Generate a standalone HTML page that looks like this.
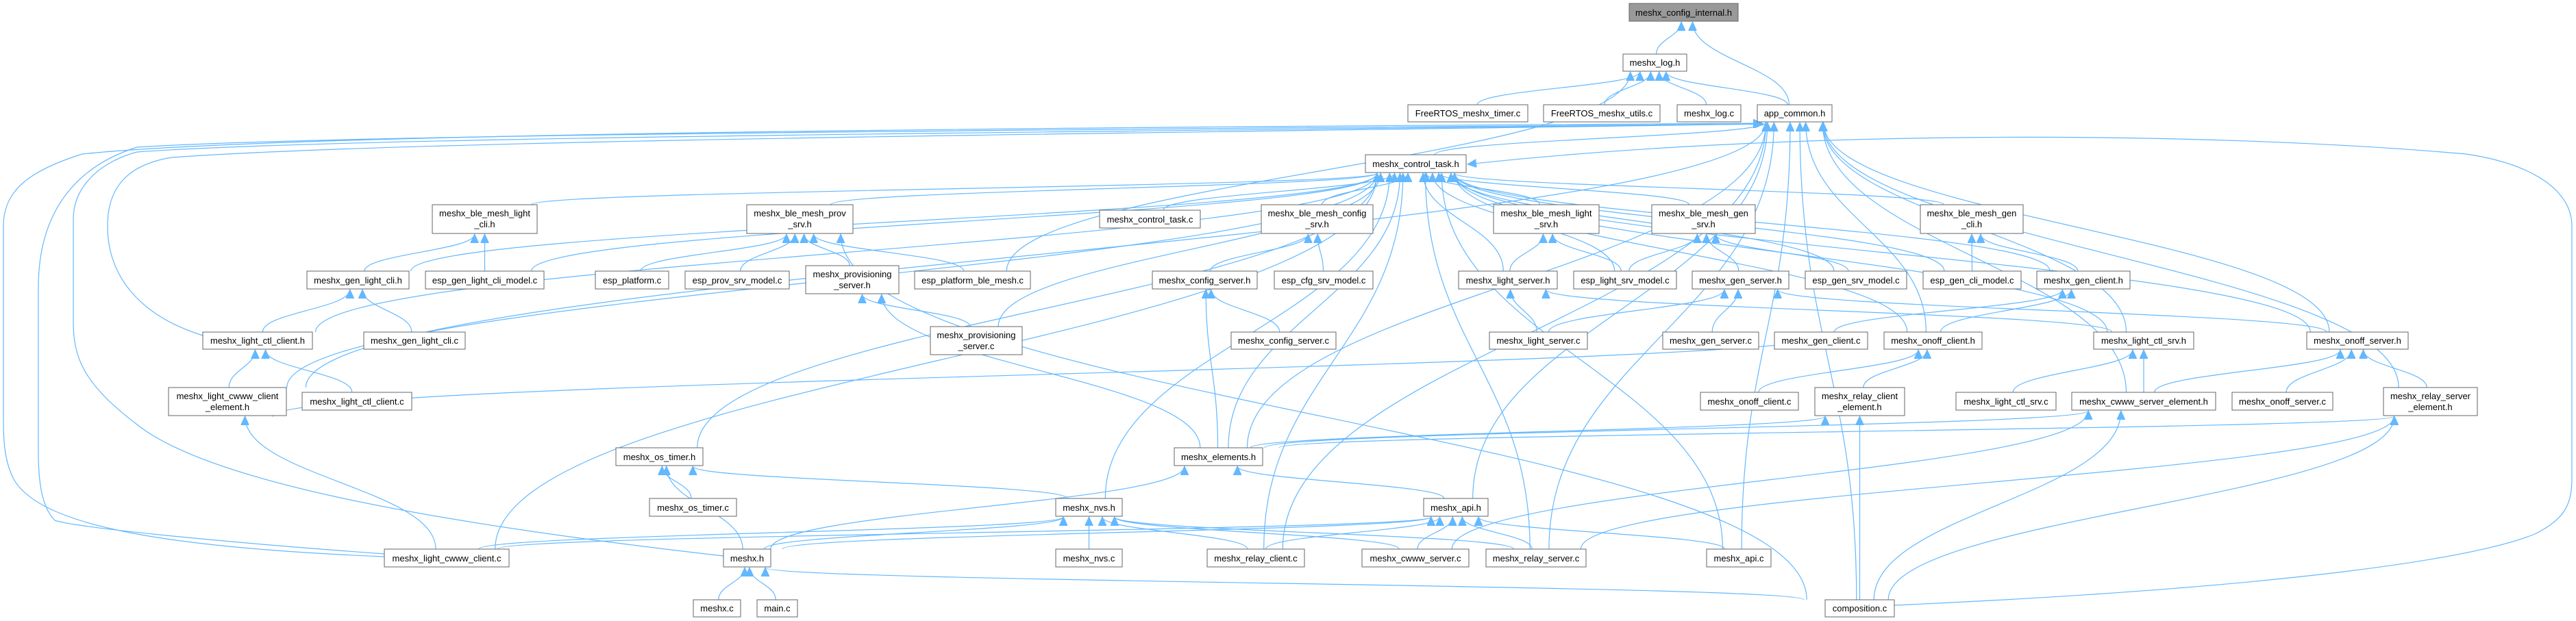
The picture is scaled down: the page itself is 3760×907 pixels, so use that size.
<!DOCTYPE html>
<html><head><meta charset="utf-8"><style>
html,body{margin:0;padding:0;background:#fff;}
svg{display:block;}
text{font-family:"Liberation Sans",Helvetica,sans-serif;font-size:13px;fill:#000;}
</style></head><body>
<svg id="g" xmlns="http://www.w3.org/2000/svg" width="3760" height="907" viewBox="0 0 3760 907">
<defs><marker id="a" markerUnits="userSpaceOnUse" markerWidth="14" markerHeight="12" refX="13" refY="6" orient="auto"><path d="M0,0 L13,6 L0,12 Z" fill="#63b8ff" stroke="#63b8ff"/></marker></defs>
<g fill="none" stroke="#63b8ff" stroke-width="1.2">
<path d="M561,813 C250,800 60,770 20,700 C5,670 5,640 5,600 L5,330 C5,280 40,250 120,225 C400,195 1500,186 2572,180" marker-end="url(#a)"/>
<path d="M561,809 C300,790 110,770 80,760 C60,740 56,700 56,660 L56,420 C56,300 120,240 200,215 C500,196 1500,190 2572,181" marker-end="url(#a)"/>
<path d="M1056,812 C600,760 300,700 200,620 C120,560 107,520 107,470 L107,320 C107,270 150,235 200,222 C500,200 1500,194 2573,181" marker-end="url(#a)"/>
<path d="M296,490 C200,460 157,400 157,330 C157,270 190,240 250,230 C600,205 1500,197 2574,181" marker-end="url(#a)"/>
<path d="M2765,884 C3300,860 3600,820 3700,780 C3740,760 3754,740 3754,700 L3754,330 C3754,280 3700,240 3600,225 C3200,190 2600,190 2142,240" marker-end="url(#a)"/>
</g>
<g id="edges" fill="none" stroke="#63b8ff" stroke-width="1.2"></g>
<g id="nodes" stroke="#666" stroke-width="1">
<rect x="2378" y="5" width="159" height="26" fill="#999"/><text x="2457.5" y="23" text-anchor="middle" stroke="none">meshx_config_internal.h</text>
<rect x="2369" y="79" width="93" height="25" fill="#fff"/><text x="2415.5" y="96" text-anchor="middle" stroke="none">meshx_log.h</text>
<rect x="2055" y="153" width="175" height="25" fill="#fff"/><text x="2142.5" y="170" text-anchor="middle" stroke="none">FreeRTOS_meshx_timer.c</text>
<rect x="2253" y="153" width="170" height="25" fill="#fff"/><text x="2338" y="170" text-anchor="middle" stroke="none">FreeRTOS_meshx_utils.c</text>
<rect x="2448" y="153" width="93" height="25" fill="#fff"/><text x="2494.5" y="170" text-anchor="middle" stroke="none">meshx_log.c</text>
<rect x="2565" y="153" width="109" height="25" fill="#fff"/><text x="2619.5" y="170" text-anchor="middle" stroke="none">app_common.h</text>
<rect x="1993" y="226" width="147" height="26" fill="#fff"/><text x="2066.5" y="244" text-anchor="middle" stroke="none">meshx_control_task.h</text>
<rect x="631" y="299" width="153" height="42" fill="#fff"/><text x="707.5" y="316" text-anchor="middle" stroke="none">meshx_ble_mesh_light</text><text x="707.5" y="332" text-anchor="middle" stroke="none">_cli.h</text>
<rect x="1090" y="299" width="155" height="42" fill="#fff"/><text x="1167.5" y="316" text-anchor="middle" stroke="none">meshx_ble_mesh_prov</text><text x="1167.5" y="332" text-anchor="middle" stroke="none">_srv.h</text>
<rect x="1605" y="307" width="147" height="26" fill="#fff"/><text x="1678.5" y="325" text-anchor="middle" stroke="none">meshx_control_task.c</text>
<rect x="1841" y="299" width="163" height="42" fill="#fff"/><text x="1922.5" y="316" text-anchor="middle" stroke="none">meshx_ble_mesh_config</text><text x="1922.5" y="332" text-anchor="middle" stroke="none">_srv.h</text>
<rect x="2180" y="299" width="154" height="42" fill="#fff"/><text x="2257" y="316" text-anchor="middle" stroke="none">meshx_ble_mesh_light</text><text x="2257" y="332" text-anchor="middle" stroke="none">_srv.h</text>
<rect x="2411" y="299" width="151" height="42" fill="#fff"/><text x="2486.5" y="316" text-anchor="middle" stroke="none">meshx_ble_mesh_gen</text><text x="2486.5" y="332" text-anchor="middle" stroke="none">_srv.h</text>
<rect x="2803" y="299" width="150" height="42" fill="#fff"/><text x="2878" y="316" text-anchor="middle" stroke="none">meshx_ble_mesh_gen</text><text x="2878" y="332" text-anchor="middle" stroke="none">_cli.h</text>
<rect x="448" y="396" width="149" height="26" fill="#fff"/><text x="522.5" y="414" text-anchor="middle" stroke="none">meshx_gen_light_cli.h</text>
<rect x="621" y="396" width="173" height="26" fill="#fff"/><text x="707.5" y="414" text-anchor="middle" stroke="none">esp_gen_light_cli_model.c</text>
<rect x="869" y="396" width="107" height="26" fill="#fff"/><text x="922.5" y="414" text-anchor="middle" stroke="none">esp_platform.c</text>
<rect x="1000" y="396" width="152" height="26" fill="#fff"/><text x="1076" y="414" text-anchor="middle" stroke="none">esp_prov_srv_model.c</text>
<rect x="1176" y="388" width="136" height="41" fill="#fff"/><text x="1244" y="405" text-anchor="middle" stroke="none">meshx_provisioning</text><text x="1244" y="421" text-anchor="middle" stroke="none">_server.h</text>
<rect x="1335" y="396" width="169" height="26" fill="#fff"/><text x="1419.5" y="414" text-anchor="middle" stroke="none">esp_platform_ble_mesh.c</text>
<rect x="1682" y="396" width="153" height="26" fill="#fff"/><text x="1758.5" y="414" text-anchor="middle" stroke="none">meshx_config_server.h</text>
<rect x="1860" y="396" width="144" height="26" fill="#fff"/><text x="1932" y="414" text-anchor="middle" stroke="none">esp_cfg_srv_model.c</text>
<rect x="2129" y="396" width="144" height="26" fill="#fff"/><text x="2201" y="414" text-anchor="middle" stroke="none">meshx_light_server.h</text>
<rect x="2297" y="396" width="150" height="26" fill="#fff"/><text x="2372" y="414" text-anchor="middle" stroke="none">esp_light_srv_model.c</text>
<rect x="2470" y="396" width="141" height="26" fill="#fff"/><text x="2540.5" y="414" text-anchor="middle" stroke="none">meshx_gen_server.h</text>
<rect x="2635" y="396" width="148" height="26" fill="#fff"/><text x="2709" y="414" text-anchor="middle" stroke="none">esp_gen_srv_model.c</text>
<rect x="2807" y="396" width="143" height="26" fill="#fff"/><text x="2878.5" y="414" text-anchor="middle" stroke="none">esp_gen_cli_model.c</text>
<rect x="2973" y="396" width="136" height="26" fill="#fff"/><text x="3041" y="414" text-anchor="middle" stroke="none">meshx_gen_client.h</text>
<rect x="296" y="485" width="160" height="25" fill="#fff"/><text x="376" y="502" text-anchor="middle" stroke="none">meshx_light_ctl_client.h</text>
<rect x="531" y="485" width="148" height="25" fill="#fff"/><text x="605" y="502" text-anchor="middle" stroke="none">meshx_gen_light_cli.c</text>
<rect x="1358" y="477" width="134" height="41" fill="#fff"/><text x="1425" y="494" text-anchor="middle" stroke="none">meshx_provisioning</text><text x="1425" y="510" text-anchor="middle" stroke="none">_server.c</text>
<rect x="1797" y="485" width="153" height="25" fill="#fff"/><text x="1873.5" y="502" text-anchor="middle" stroke="none">meshx_config_server.c</text>
<rect x="2174" y="485" width="143" height="25" fill="#fff"/><text x="2245.5" y="502" text-anchor="middle" stroke="none">meshx_light_server.c</text>
<rect x="2427" y="485" width="140" height="25" fill="#fff"/><text x="2497" y="502" text-anchor="middle" stroke="none">meshx_gen_server.c</text>
<rect x="2590" y="485" width="136" height="25" fill="#fff"/><text x="2658" y="502" text-anchor="middle" stroke="none">meshx_gen_client.c</text>
<rect x="2750" y="485" width="143" height="25" fill="#fff"/><text x="2821.5" y="502" text-anchor="middle" stroke="none">meshx_onoff_client.h</text>
<rect x="3056" y="485" width="146" height="25" fill="#fff"/><text x="3129" y="502" text-anchor="middle" stroke="none">meshx_light_ctl_srv.h</text>
<rect x="3367" y="485" width="148" height="25" fill="#fff"/><text x="3441" y="502" text-anchor="middle" stroke="none">meshx_onoff_server.h</text>
<rect x="246" y="566" width="172" height="41" fill="#fff"/><text x="332" y="583" text-anchor="middle" stroke="none">meshx_light_cwww_client</text><text x="332" y="599" text-anchor="middle" stroke="none">_element.h</text>
<rect x="441" y="573" width="160" height="26" fill="#fff"/><text x="521" y="591" text-anchor="middle" stroke="none">meshx_light_ctl_client.c</text>
<rect x="2482" y="573" width="143" height="26" fill="#fff"/><text x="2553.5" y="591" text-anchor="middle" stroke="none">meshx_onoff_client.c</text>
<rect x="2649" y="566" width="131" height="41" fill="#fff"/><text x="2714.5" y="583" text-anchor="middle" stroke="none">meshx_relay_client</text><text x="2714.5" y="599" text-anchor="middle" stroke="none">_element.h</text>
<rect x="2855" y="573" width="146" height="26" fill="#fff"/><text x="2928" y="591" text-anchor="middle" stroke="none">meshx_light_ctl_srv.c</text>
<rect x="3024" y="573" width="210" height="26" fill="#fff"/><text x="3129" y="591" text-anchor="middle" stroke="none">meshx_cwww_server_element.h</text>
<rect x="3258" y="573" width="147" height="26" fill="#fff"/><text x="3331.5" y="591" text-anchor="middle" stroke="none">meshx_onoff_server.c</text>
<rect x="3479" y="566" width="137" height="41" fill="#fff"/><text x="3547.5" y="583" text-anchor="middle" stroke="none">meshx_relay_server</text><text x="3547.5" y="599" text-anchor="middle" stroke="none">_element.h</text>
<rect x="899" y="654" width="127" height="26" fill="#fff"/><text x="962.5" y="672" text-anchor="middle" stroke="none">meshx_os_timer.h</text>
<rect x="1714" y="654" width="129" height="26" fill="#fff"/><text x="1778.5" y="672" text-anchor="middle" stroke="none">meshx_elements.h</text>
<rect x="948" y="728" width="127" height="26" fill="#fff"/><text x="1011.5" y="746" text-anchor="middle" stroke="none">meshx_os_timer.c</text>
<rect x="1541" y="728" width="97" height="26" fill="#fff"/><text x="1589.5" y="746" text-anchor="middle" stroke="none">meshx_nvs.h</text>
<rect x="2078" y="728" width="94" height="26" fill="#fff"/><text x="2125" y="746" text-anchor="middle" stroke="none">meshx_api.h</text>
<rect x="561" y="802" width="182" height="26" fill="#fff"/><text x="652" y="820" text-anchor="middle" stroke="none">meshx_light_cwww_client.c</text>
<rect x="1056" y="802" width="69" height="26" fill="#fff"/><text x="1090.5" y="820" text-anchor="middle" stroke="none">meshx.h</text>
<rect x="1541" y="802" width="97" height="26" fill="#fff"/><text x="1589.5" y="820" text-anchor="middle" stroke="none">meshx_nvs.c</text>
<rect x="1762" y="802" width="142" height="26" fill="#fff"/><text x="1833" y="820" text-anchor="middle" stroke="none">meshx_relay_client.c</text>
<rect x="1988" y="802" width="156" height="26" fill="#fff"/><text x="2066" y="820" text-anchor="middle" stroke="none">meshx_cwww_server.c</text>
<rect x="2169" y="802" width="146" height="26" fill="#fff"/><text x="2242" y="820" text-anchor="middle" stroke="none">meshx_relay_server.c</text>
<rect x="2491" y="802" width="94" height="26" fill="#fff"/><text x="2538" y="820" text-anchor="middle" stroke="none">meshx_api.c</text>
<rect x="1012" y="876" width="69" height="25" fill="#fff"/><text x="1046.5" y="893" text-anchor="middle" stroke="none">meshx.c</text>
<rect x="1105" y="876" width="59" height="25" fill="#fff"/><text x="1134.5" y="893" text-anchor="middle" stroke="none">main.c</text>
<rect x="2664" y="876" width="101" height="25" fill="#fff"/><text x="2714.5" y="893" text-anchor="middle" stroke="none">composition.c</text>
</g>
</svg>
<script>
var N={CI:[2378,2537,5,31],LOG:[2369,2462,79,104],FRT:[2055,2230,153,178],FRU:[2253,2423,153,178],LOGC:[2448,2541,153,178],APP:[2565,2674,153,178],CT:[1993,2140,226,252],BLC:[631,784,299,341],PRV:[1090,1245,299,341],CTC:[1605,1752,307,333],CFG:[1841,2004,299,341],LSV:[2180,2334,299,341],GSV:[2411,2562,299,341],GCL:[2803,2953,299,341],GLC:[448,597,396,422],EGLC:[621,794,396,422],EPL:[869,976,396,422],EPSM:[1000,1152,396,422],PSH:[1176,1312,388,429],EPBM:[1335,1504,396,422],CSH:[1682,1835,396,422],ECSM:[1860,2004,396,422],LSH:[2129,2273,396,422],ELSM:[2297,2447,396,422],GSH:[2470,2611,396,422],EGSM:[2635,2783,396,422],EGCM:[2807,2950,396,422],GCH:[2973,3109,396,422],LCCH:[296,456,485,510],GLCC:[531,679,485,510],PSC:[1358,1492,477,518],CSC:[1797,1950,485,510],LSC:[2174,2317,485,510],GSC:[2427,2567,485,510],GCC:[2590,2726,485,510],OCH:[2750,2893,485,510],LCSH:[3056,3202,485,510],OSH:[3367,3515,485,510],CWCE:[246,418,566,607],LCCC:[441,601,573,599],OCC:[2482,2625,573,599],RCE:[2649,2780,566,607],LCSC:[2855,3001,573,599],CWSE:[3024,3234,573,599],OSC:[3258,3405,573,599],RSE:[3479,3616,566,607],OST:[899,1026,654,680],ELM:[1714,1843,654,680],OSTC:[948,1075,728,754],NVS:[1541,1638,728,754],API:[2078,2172,728,754],CWC:[561,743,802,828],MX:[1056,1125,802,828],NVSC:[1541,1638,802,828],RCC:[1762,1904,802,828],CWSC:[1988,2144,802,828],RSC:[2169,2315,802,828],APIC:[2491,2585,802,828],MXC:[1012,1081,876,901],MAIN:[1105,1164,876,901],COMP:[2664,2765,876,901]};
var E=[["LOG","CI"],["APP","CI"],["FRT","LOG"],["FRU","LOG"],["LOGC","LOG"],["APP","LOG"],["EPBM","LOG"],["CT","APP"],
["CWCE","APP"],["RCC","APP"],["ELM","APP"],["OCH","APP"],["LCSH","APP"],["OSH","APP"],["CWSE","APP"],["RSE","APP"],["API","APP"],["COMP","APP"],["RSC","APP"],["APIC","APP"],
["BLC","CT"],["GLC","CT"],["EGLC","CT"],["LCCH","CT"],["CWCE","CT"],["CWC","CT"],["OST","CT"],["PRV","CT"],["PSC","CT"],["CTC","CT"],["CFG","CT"],["NVS","CT"],["RCC","CT"],["ELM","CT"],["LSH","CT"],["LSV","CT"],["GSV","CT"],["GCL","CT"],["ELSM","CT"],["EGSM","CT"],["EGCM","CT"],["GCH","CT"],["OCH","CT"],["LCSH","CT"],["OSH","CT"],["APIC","CT"],["RSC","CT"],
["GLC","BLC"],["EGLC","BLC"],["LCCH","GLC"],["GLCC","GLC"],["CWCE","LCCH"],["LCCC","LCCH"],["OCH","CWCE"],["CWC","CWCE"],
["EPL","PRV"],["EPSM","PRV"],["PSH","PRV"],["EPBM","PRV"],["COMP","PRV"],["PSC","PSH"],["ELM","PSH"],
["CSH","CFG"],["ECSM","CFG"],["CSC","CSH"],["ELM","CSH"],["LSH","LSV"],["ELSM","LSV"],["ELSM","GSV"],["GSH","GSV"],["EGSM","GSV"],["EGCM","GCL"],["GCH","GCL"],
["LSC","LSH"],["LCSH","LSH"],["GSC","GSH"],["LSC","GSH"],["OSH","GSH"],["GCC","GCH"],["OCH","GCH"],["OCC","OCH"],["RCE","OCH"],
["LCSC","LCSH"],["CWSE","LCSH"],["CWSE","OSH"],["OSC","OSH"],["RSE","OSH"],["ELM","RCE"],["COMP","RCE"],["ELM","CWSE"],["CWSC","CWSE"],["COMP","CWSE"],["ELM","RSE"],["RSC","RSE"],["COMP","RSE"],
["OSTC","OST"],["MX","OST"],["NVS","OST"],["MX","ELM"],["API","ELM"],["MX","NVS"],["NVSC","NVS"],["RCC","NVS"],["CWSC","NVS"],["RSC","NVS"],["CWC","NVS"],
["MXC","MX"],["MAIN","MX"],["COMP","MX"],["CWC","API"],["CWSC","API"],["RSC","API"],["APIC","API"],["RCC","API"],["MX","API"]];
var s="";
E.forEach(function(e){var c=N[e[0]],p=N[e[1]];var cx=(c[0]+c[1])/2,cy=c[2],pcx=(p[0]+p[1])/2,pw=p[1]-p[0];
var off=(cx-pcx)*0.08;var lim=pw/2.6;if(off>lim)off=lim;if(off<-lim)off=-lim;var px=pcx+off,py=p[3];
var dy=cy-py;var sx=cx+((pcx-cx)*0.05);
s+='<path d="M'+sx.toFixed(1)+','+cy+' C'+sx.toFixed(1)+','+(cy-dy*0.45).toFixed(1)+' '+px.toFixed(1)+','+(py+dy*0.45).toFixed(1)+' '+px.toFixed(1)+','+(py+1)+'" marker-end="url(#a)"/>';});
document.getElementById("edges").innerHTML=s;
</script>
</body></html>
